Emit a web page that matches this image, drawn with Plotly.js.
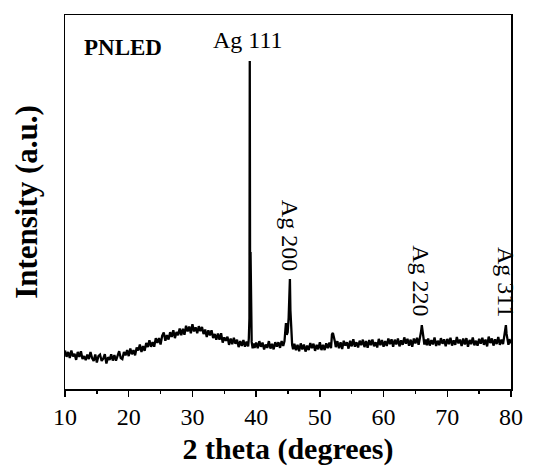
<!DOCTYPE html>
<html>
<head>
<meta charset="utf-8">
<script src="https://cdn.plot.ly/plotly-3.0.1.min.js"></script>
<style>html,body{margin:0;padding:0;background:#fff;}#chart{width:534px;height:466px;}</style>
</head>
<body>
<div id="chart"></div>
<script>
// 2 theta (degrees)
const twoTheta = [
10.00,10.25,10.50,10.75,11.00,11.25,11.50,11.75,12.00,12.25,12.50,12.75,13.00,13.25,13.50,13.75,14.00,14.25,14.50,14.75,
15.00,15.25,15.50,15.75,16.00,16.25,16.50,16.75,17.00,17.25,17.50,17.75,18.00,18.25,18.50,18.75,19.00,19.25,19.50,19.75,
20.00,20.25,20.50,20.75,21.00,21.25,21.50,21.75,22.00,22.25,22.50,22.75,23.00,23.25,23.50,23.75,24.00,24.25,24.50,24.75,
25.00,25.25,25.50,25.75,26.00,26.25,26.50,26.75,27.00,27.25,27.50,27.75,28.00,28.25,28.50,28.75,29.00,29.25,29.50,29.75,
30.00,30.25,30.50,30.75,31.00,31.25,31.50,31.75,32.00,32.25,32.50,32.75,33.00,33.25,33.50,33.75,34.00,34.25,34.50,34.75,
35.00,35.25,35.50,35.75,36.00,36.25,36.50,36.75,37.00,37.25,37.50,37.75,38.00,38.25,38.50,38.75,
38.85,38.95,39.00,39.05,39.12,39.20,39.30,39.45,39.60,39.75,
40.00,40.25,40.50,40.75,41.00,41.25,41.50,41.75,42.00,42.25,42.50,42.75,43.00,43.25,43.50,43.75,44.00,44.25,
44.45,44.60,44.68,44.80,44.95,45.10,45.18,45.30,45.38,45.50,45.65,45.80,
46.00,46.25,46.50,46.75,47.00,47.25,47.50,47.75,48.00,48.25,48.50,48.75,49.00,49.25,49.50,49.75,
50.00,50.25,50.50,50.75,51.00,51.25,51.50,51.75,51.90,52.05,52.20,52.35,52.50,52.75,
53.00,53.25,53.50,53.75,54.00,54.25,54.50,54.75,55.00,55.25,55.50,55.75,56.00,56.25,56.50,56.75,57.00,57.25,57.50,57.75,
58.00,58.25,58.50,58.75,59.00,59.25,59.50,59.75,60.00,60.25,60.50,60.75,61.00,61.25,61.50,61.75,62.00,62.25,62.50,62.75,
63.00,63.25,63.50,63.75,64.00,64.25,64.50,64.75,65.00,65.25,65.50,65.75,65.90,66.00,66.10,66.25,66.40,66.60,66.80,
67.00,67.25,67.50,67.75,68.00,68.25,68.50,68.75,69.00,69.25,69.50,69.75,70.00,70.25,70.50,70.75,71.00,71.25,71.50,71.75,
72.00,72.25,72.50,72.75,73.00,73.25,73.50,73.75,74.00,74.25,74.50,74.75,75.00,75.25,75.50,75.75,76.00,76.25,76.50,76.75,
77.00,77.25,77.50,77.75,78.00,78.25,78.50,78.75,78.95,79.10,79.20,79.30,79.45,79.60,79.75,80.00
];
// Intensity (a.u.)
const intensity = [
10.3,8.6,9.9,8.3,10.3,8.7,9.4,7.8,9.9,8.6,10.1,8.0,8.8,7.7,9.2,8.0,9.9,8.3,7.5,9.2,
7.1,8.8,9.2,7.5,8.1,9.3,6.8,8.5,7.8,9.3,7.6,9.1,7.6,8.9,10.1,8.3,8.0,9.9,9.0,10.4,
8.8,10.8,9.3,10.4,9.0,11.1,10.3,11.9,9.9,11.5,10.2,12.3,11.2,13.0,11.3,12.5,11.3,13.6,12.3,13.6,
11.9,14.2,15.1,12.9,14.4,13.2,15.2,13.9,15.7,13.6,15.2,14.4,16.2,14.4,16.1,14.5,16.9,15.4,16.7,14.9,
17.3,15.4,16.5,14.9,16.8,15.5,16.6,14.7,15.9,13.9,15.7,14.3,15.7,13.6,14.7,13.2,14.8,13.2,14.9,12.4,
13.8,12.9,14.0,11.8,13.5,12.0,13.7,12.1,13.2,11.2,12.8,11.5,13.1,11.3,12.7,11.4,
13.5,19.0,87.7,28.0,36.6,17.5,12.6,10.9,12.2,11.0,
12.4,10.9,12.8,11.3,12.4,10.6,11.9,11.0,12.8,10.8,12.1,10.6,12.5,11.3,12.5,11.0,12.8,11.5,
12.8,16.0,17.6,14.5,15.2,19.0,21.9,29.4,21.0,14.5,11.8,10.6,
12.1,10.4,11.8,10.1,12.2,10.6,11.9,10.0,11.6,10.4,12.3,10.9,12.1,10.2,11.8,10.6,
12.5,10.4,11.8,10.4,12.2,10.9,12.4,10.9,14.6,15.0,13.2,12.8,11.2,12.8,
10.9,12.5,10.7,12.9,11.6,12.5,10.8,12.9,11.4,13.3,11.3,12.5,11.1,12.9,11.7,13.2,11.2,12.8,11.0,13.1,
11.7,13.2,11.4,12.5,11.1,13.4,11.7,13.1,11.3,12.8,11.5,13.5,12.0,13.3,11.3,13.2,11.9,13.5,11.4,13.0,
11.8,13.8,12.1,13.4,11.6,13.2,11.3,13.5,12.2,13.7,11.8,13.6,15.5,17.1,14.8,13.9,11.9,13.2,11.7,
13.5,11.6,13.1,11.9,13.8,11.5,12.9,11.7,13.6,12.1,13.3,11.4,13.4,12.0,13.7,11.6,13.0,11.8,13.9,12.2,
13.2,11.5,13.5,11.9,13.6,11.3,13.1,12.0,13.8,11.7,12.9,11.6,13.4,12.1,13.7,11.8,13.2,11.4,14.0,12.3,
13.5,11.6,13.3,12.0,13.9,11.8,13.2,12.0,14.0,15.6,17.1,14.8,13.2,11.8,13.3,12.2
];
// Peak labels
const peakLabels = ['Ag 111', 'Ag 200', 'Ag 220', 'Ag 311'];
const peakLabelX = [38.72, 45.32, 65.88, 79.22];
const peakLabelY = [93.3, 41.2, 29.1, 28.6];
const peakLabelAngle = [0, 90, 90, 90];
const sampleName = 'PNLED';
const xTickVals = [10, 20, 30, 40, 50, 60, 70, 80];

const serif = 'Liberation Serif, Times New Roman, serif';

const annotations = peakLabels.map((t, i) => ({
  x: peakLabelX[i], y: peakLabelY[i], xref: 'x', yref: 'y',
  text: t, showarrow: false, textangle: peakLabelAngle[i],
  xanchor: 'center', yanchor: 'middle',
  font: {family: serif, size: 24, color: '#000'}
}));
annotations.push({
  x: 12.67, y: 91.4, xref: 'x', yref: 'y', text: '<b>' + sampleName + '</b>',
  showarrow: false, xanchor: 'left', yanchor: 'middle',
  font: {family: serif, size: 23, color: '#000'}
});

const trace = {
  x: twoTheta, y: intensity, type: 'scatter', mode: 'lines',
  line: {color: '#000', width: 2.3}, hoverinfo: 'skip'
};

const layout = {
  width: 534, height: 466,
  margin: {l: 65, r: 23, t: 15, b: 77},
  paper_bgcolor: '#fff', plot_bgcolor: '#fff',
  showlegend: false,
  font: {family: serif, color: '#000'},
  xaxis: {
    range: [10, 80], tickvals: xTickVals, ticktext: xTickVals.map(String),
    ticks: 'outside', ticklen: 6, tickwidth: 1.5, tickcolor: '#000',
    minor: {dtick: 5, tick0: 10, ticks: 'outside', ticklen: 3, tickwidth: 1.5, tickcolor: '#000'},
    showline: true, linecolor: '#000', linewidth: 1.5, mirror: true,
    showgrid: false, zeroline: false,
    tickfont: {family: serif, size: 24, color: '#000'},
    title: {text: '<b>2 theta (degrees)</b>', font: {family: serif, size: 30, color: '#000'}, standoff: 8},
    automargin: false
  },
  yaxis: {
    range: [0, 100], showticklabels: false, ticks: '',
    showline: true, linecolor: '#000', linewidth: 1.5, mirror: true,
    showgrid: false, zeroline: false,
    title: {text: '<b>Intensity (a.u.)</b>', font: {family: serif, size: 31, color: '#000'}, standoff: 16},
    automargin: false
  },
  annotations: annotations
};

Plotly.newPlot('chart', [trace], layout, {staticPlot: true, displayModeBar: false});
</script>
</body>
</html>
